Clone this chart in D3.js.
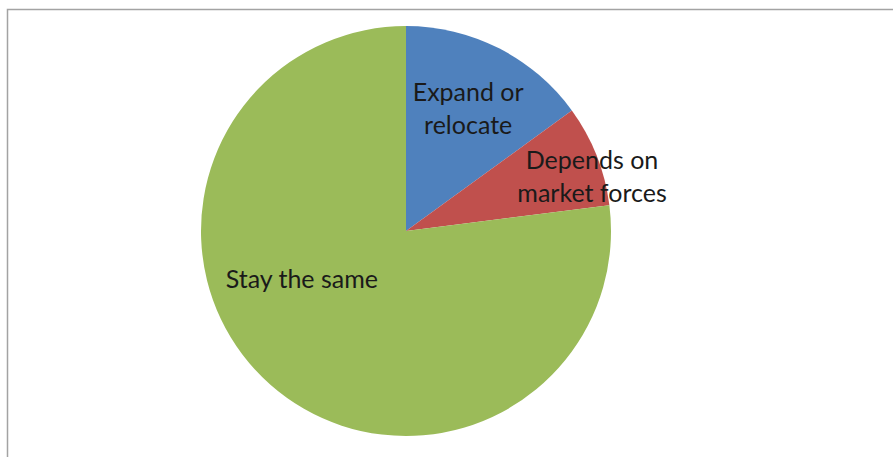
<!DOCTYPE html>
<html>
<head>
<meta charset="utf-8">
<script src="https://cdn.jsdelivr.net/npm/d3@7/dist/d3.min.js"></script>
<style>
  html, body { margin: 0; padding: 0; background: #fff; }
  svg { display: block; }
</style>
</head>
<body>
<svg id="chart" width="893" height="457"></svg>
<script>
const categories = ["Expand or relocate", "Depends on market forces", "Stay the same"];
const values = [15, 8, 77];
const colors = ["#4F81BD", "#C0504D", "#9BBB59"];
const labelLines = [["Expand or", "relocate"], ["Depends on", "market forces"], ["Stay the same"]];

const svg = d3.select("#chart");
const W = 893, H = 457;

// frame
svg.append("rect")
  .attr("x", 7.5).attr("y", 9.5)
  .attr("width", W + 10).attr("height", H + 10)
  .attr("fill", "#fff")
  .attr("stroke", "#a3a3a3")
  .attr("stroke-width", 1.5);

const cx = 406, cy = 231, R = 205;
const g = svg.append("g").attr("transform", `translate(${cx},${cy})`);

const data = categories.map((c, i) => ({ name: c, value: values[i], color: colors[i], lines: labelLines[i] }));
const pie = d3.pie().value(d => d.value).sort(null);
const arcs = pie(data);
const arc = d3.arc().innerRadius(0).outerRadius(R);

g.selectAll("path.slice").data(arcs).join("path")
  .attr("class", "slice")
  .attr("d", arc)
  .attr("fill", d => d.data.color);

// label placement (Excel best-fit style): radius fraction & angle offset from slice mid-angle
const labelPlacement = [
  { r: 0.668, da: 0.0 },
  { r: 0.945, da: 0.094 },
  { r: 0.56, da: 0.415 }
];
const lineH = 33;
g.selectAll("text.lbl").data(arcs).join("text")
  .attr("class", "lbl")
  .attr("text-anchor", "middle")
  .attr("font-family", "Lato, 'Open Sans', sans-serif")
  .attr("font-size", 25)
  .attr("fill", "#1a1a1a")
  .each(function(d, i) {
    const p = labelPlacement[i];
    const a = (d.startAngle + d.endAngle) / 2 + p.da;
    const x = Math.sin(a) * R * p.r;
    const y = -Math.cos(a) * R * p.r;
    const t = d3.select(this);
    const n = d.data.lines.length;
    d.data.lines.forEach((ln, k) => {
      t.append("tspan")
        .attr("x", x)
        .attr("y", y + (k - (n - 1) / 2) * lineH)
        .attr("dy", "0.35em")
        .text(ln);
    });
  });
</script>
</body>
</html>
